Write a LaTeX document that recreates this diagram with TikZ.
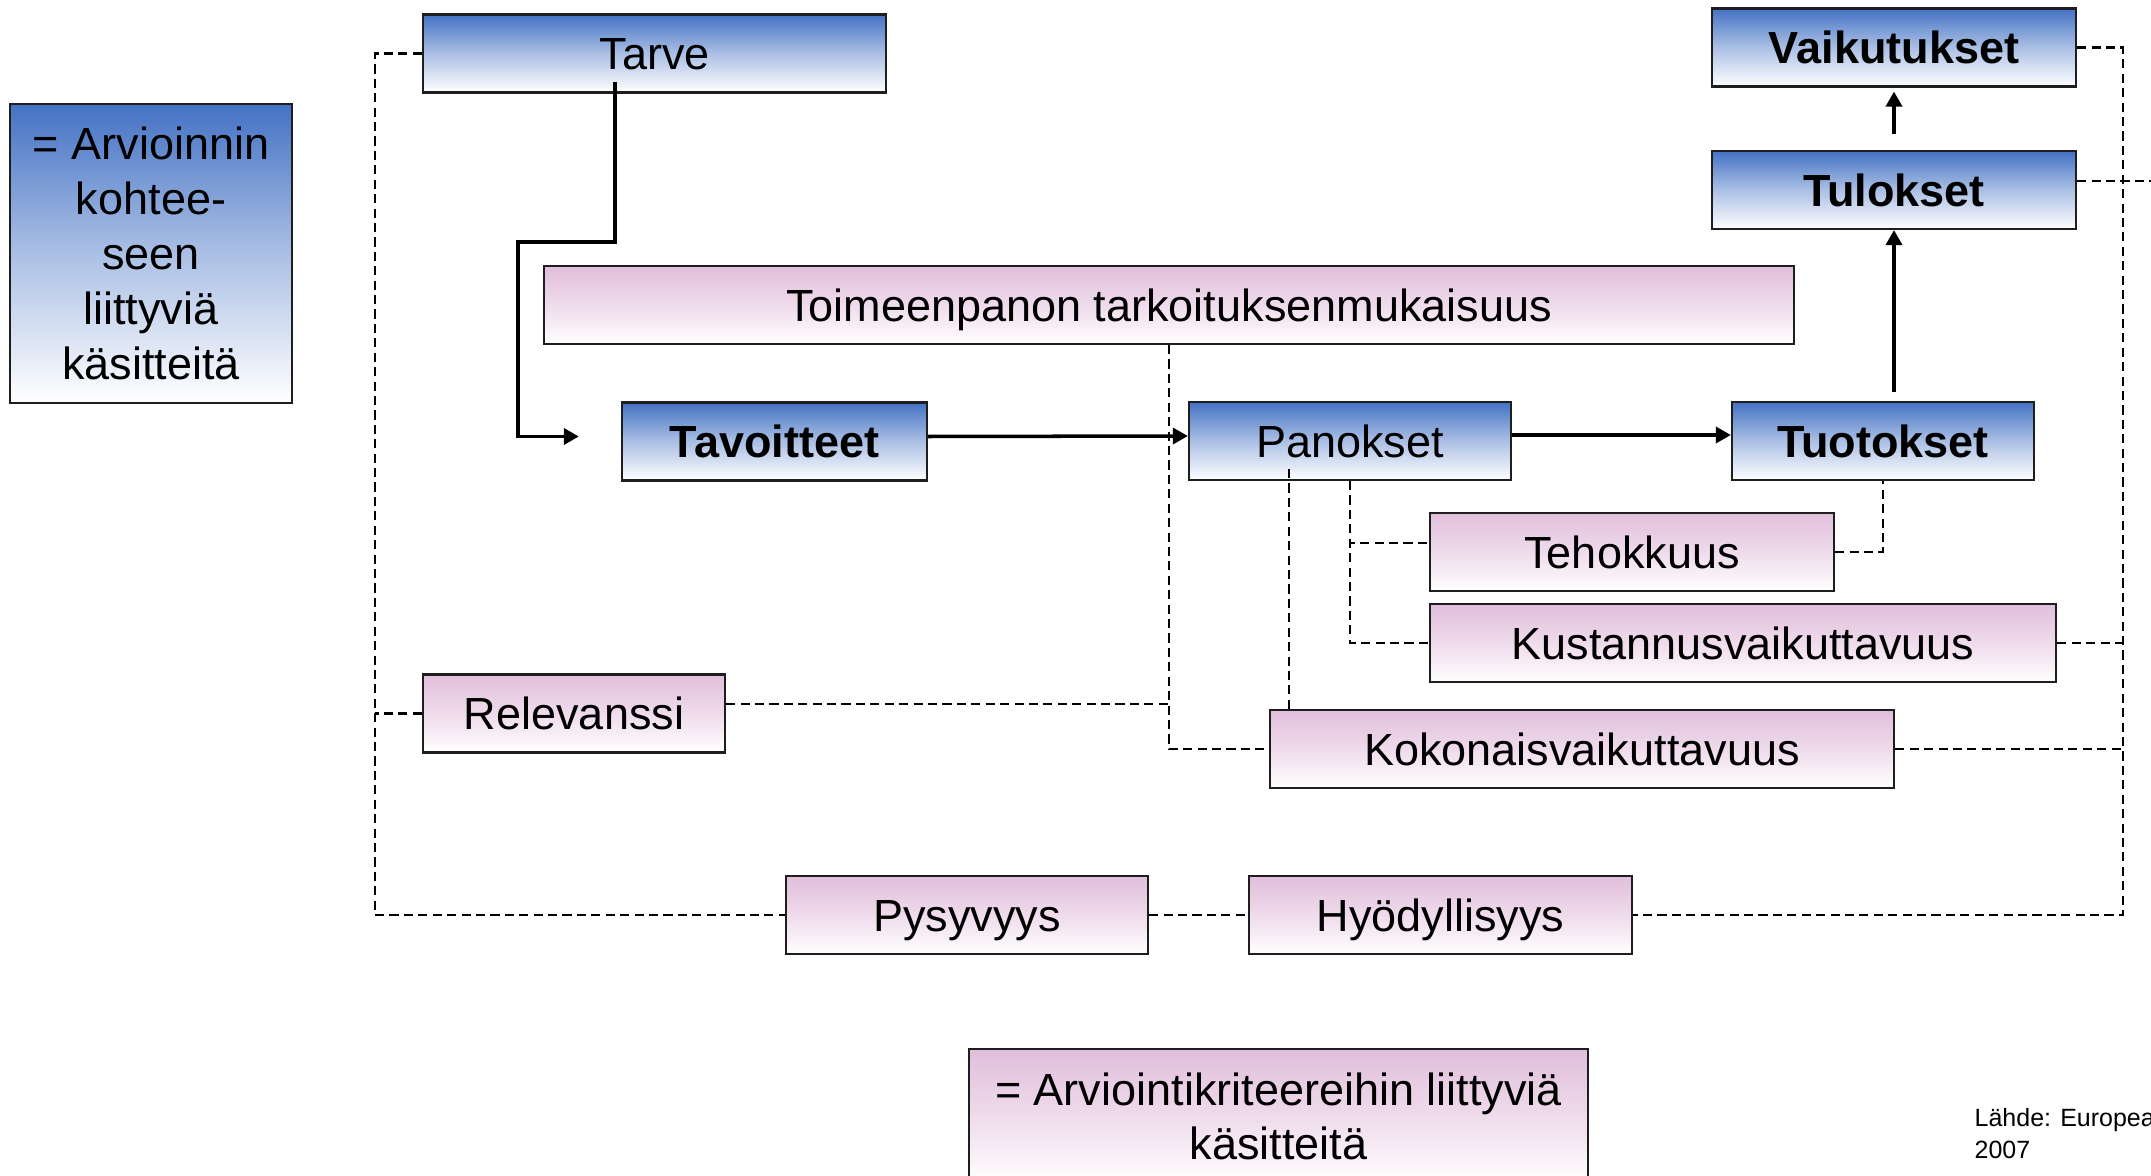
\documentclass[tikz,border=0pt]{standalone}
\usepackage{fontspec}
\setmainfont{Liberation Sans}
\usetikzlibrary{
  arrows.meta,
  positioning
}
\definecolor{evalblue}{RGB}{68,114,196}
\definecolor{critpink}{RGB}{225,190,219}
\definecolor{boxline}{RGB}{30,30,30}

\begin{document}
\begin{tikzpicture}[
  x=0.01cm, y=-0.01cm,
  box/.style={draw=boxline, line width=0.6pt, inner sep=0pt, align=center,
              font=\fontsize{12.8}{15.4}\selectfont, minimum height=0.78cm,
              text height=0.32cm, text depth=0pt},
  bold/.style={font=\fontsize{12.8}{15.4}\selectfont\bfseries},
  target/.style={box, top color=evalblue, bottom color=white, middle color=evalblue!45},
  crit/.style={box, top color=critpink, bottom color=white, middle color=critpink!55},
  arr/.style={-{Triangle[length=0.15cm, width=0.16cm]}, line width=1pt},
  link/.style={line width=0.6pt, dash pattern=on 2.6pt off 1.5pt}
]
  \useasboundingbox (0,0) rectangle (2151,1176);
  \clip (0,0) rectangle (2151,1176);

  % Legend boxes
  \node[target, text height=, text depth=, minimum width=2.82cm, minimum height=2.99cm,
        font=\fontsize{12.8}{15.65}\selectfont] (legtarget) at (151,253.5)
        {= Arvioinnin\\kohtee-\\seen\\liittyviä\\käsitteitä};
  \node[crit, text height=, text depth=, minimum width=6.19cm, minimum height=1.35cm,
        font=\fontsize{12.8}{15.2}\selectfont] (legcrit) at (1278.5,1116.5)
        {= Arviointikriteereihin liittyviä\\käsitteitä};
  \node[anchor=west, align=left, inner sep=0pt,
        font=\fontsize{7.1}{9.1}\selectfont] (source) at (1974,1134)
        {Lähde: Europea\\2007};

  % Evaluation targets
  \node[target, minimum width=4.63cm] (tarve) at (654.5,53.5) {Tarve};
  \node[target, bold, minimum width=3.64cm] (vaik) at (1894,47.5) {Vaikutukset};
  \node[target, bold, minimum width=3.64cm] (tulok) at (1894,190) {Tulokset};
  \node[target, bold, minimum width=3.05cm] (tavo) at (774.5,441.5) {Tavoitteet};
  \node[target, minimum width=3.22cm] (panok) at (1350,441) {Panokset};
  \node[target, bold, minimum width=3.02cm] (tuot) at (1883,441) {Tuotokset};

  % Evaluation criteria
  \node[crit, minimum width=12.5cm] (toim) at (1169,305) {Toimeenpanon tarkoituksenmukaisuus};
  \node[crit, minimum width=4.04cm] (teho) at (1632,552) {Tehokkuus};
  \node[crit, minimum width=6.26cm] (kust) at (1743,643) {Kustannusvaikuttavuus};
  \node[crit, minimum width=3.02cm] (rele) at (574,713.5) {Relevanssi};
  \node[crit, minimum width=6.24cm] (koko) at (1582,749) {Kokonaisvaikuttavuus};
  \node[crit, minimum width=3.62cm] (pysy) at (967,915) {Pysyvyys};
  \node[crit, minimum width=3.83cm] (hyod) at (1440.5,915) {Hyödyllisyys};

  % Helper coordinates
  \coordinate (bend) at (518,242);
  \coordinate (leftx) at (375,0);
  \coordinate (rightx) at (2123,0);
  \coordinate (edge) at (2151,0);
  \coordinate (releout) at ([yshift=0.095cm]rele.east);
  \coordinate (tulokout) at ([yshift=0.09cm]tulok.east);
  \coordinate (panokin) at ([xshift=-0.61cm, yshift=0.12cm]panok.south);

  % Chain
  \draw[arr, shorten >=0.42cm] ([xshift=-0.395cm, yshift=0.12cm]tarve.south)
    |- (bend) |- ([yshift=0.05cm]tavo.west);
  \draw[arr] ([yshift=0.05cm]tavo.east) -- ([yshift=0.05cm]panok.west);
  \draw[arr] ([yshift=0.06cm]panok.east) -- ([yshift=0.06cm]tuot.west);
  \draw[arr, shorten <=0.09cm] (tulok.south |- tuot.north) -- (tulok.south);
  \draw[arr, shorten <=0.16cm, shorten >=0.04cm] (tulok.north) -- (vaik.south);

  % Dashed links
  \draw[link] (tarve.west) -- (tarve.west -| leftx) |- (pysy.west);
  \draw[link] (rele.west) -- (rele.west -| leftx);
  \draw[link] (releout) -- (releout -| toim.south);
  \draw[link] (toim.south) |- (koko.west);
  \draw[link] (panokin) -- (panokin |- koko.north);
  \draw[link] (panok.south) |- ([yshift=0.09cm]teho.west);
  \draw[link] (panok.south) |- (kust.west);
  \draw[link] (teho.east) -| (tuot.south);
  \draw[link] (vaik.east) -| (rightx |- hyod.east) -- (hyod.east);
  \draw[link] (tulokout) -- (tulokout -| edge);
  \draw[link] (kust.east) -- (kust.east -| rightx);
  \draw[link] (koko.east) -- (koko.east -| rightx);
  \draw[link] (pysy.east) -- (hyod.west);
\end{tikzpicture}
\end{document}
